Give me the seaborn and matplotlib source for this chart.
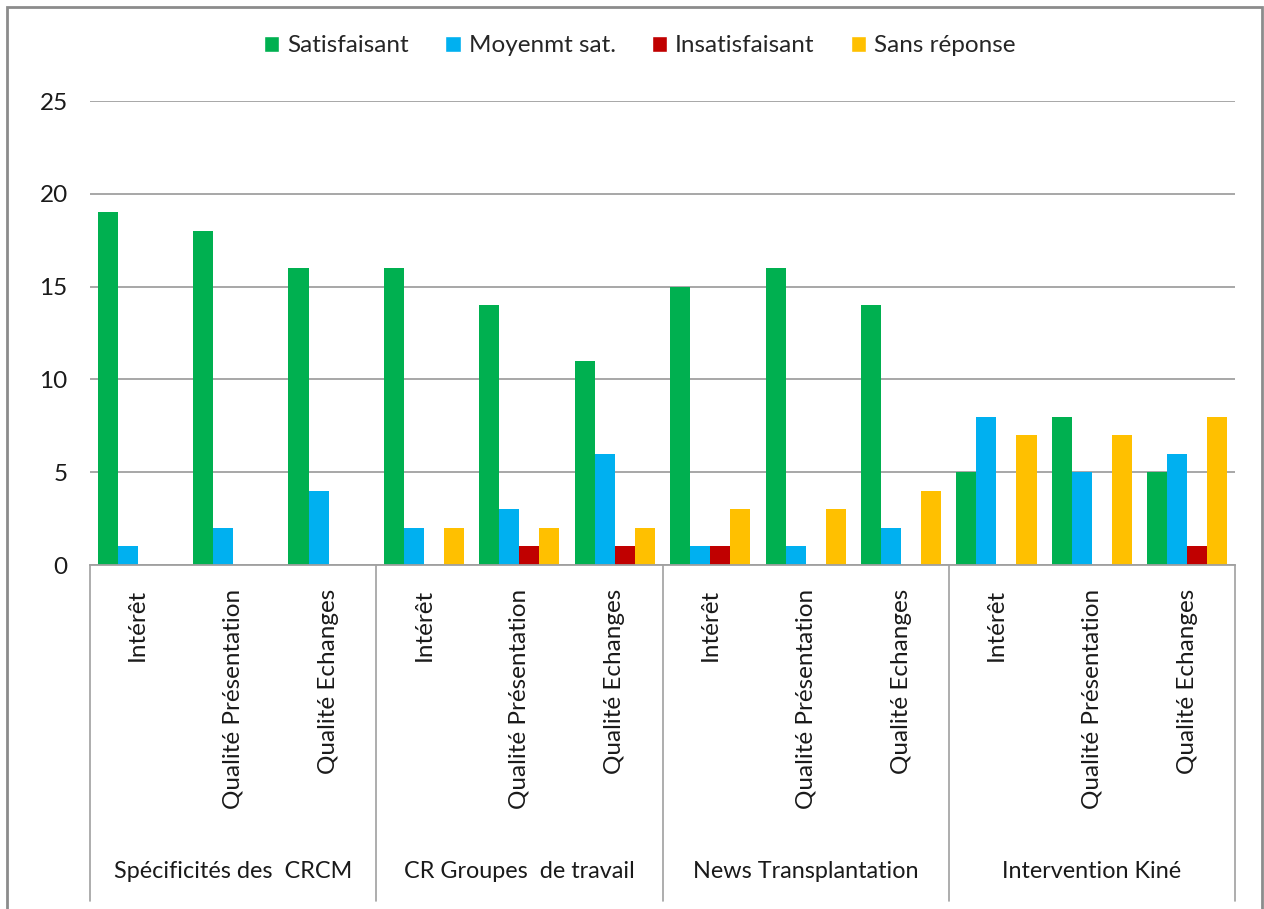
import matplotlib
matplotlib.use("Agg")
import matplotlib.pyplot as plt
import seaborn as sns
import pandas as pd
from matplotlib.patches import Rectangle

groups = ["Spécificités des  CRCM", "CR Groupes  de travail", "News Transplantation", "Intervention Kiné"]
items = ["Intérêt", "Qualité Présentation", "Qualité Echanges"]
series = ["Satisfaisant", "Moyenmt sat.", "Insatisfaisant", "Sans réponse"]
colors = ["#00B050", "#00B0F0", "#C00000", "#FFC000"]

satisfaisant = [19, 18, 16, 16, 14, 11, 15, 16, 14, 5, 8, 5]
moyen = [1, 2, 4, 2, 3, 6, 1, 1, 2, 8, 5, 6]
insatisfaisant = [0, 0, 0, 0, 1, 1, 1, 0, 0, 0, 0, 1]
sans_reponse = [0, 0, 0, 2, 2, 2, 3, 3, 4, 7, 7, 8]

cats = [g + "|" + it for g in groups for it in items]
values = [satisfaisant, moyen, insatisfaisant, sans_reponse]

rows = []
for s, vals in zip(series, values):
    for c, v in zip(cats, vals):
        rows.append({"cat": c, "serie": s, "val": v})
df = pd.DataFrame(rows)

sns.set_style("white")
plt.rcParams["font.family"] = ["Lato", "DejaVu Sans"]

fig = plt.figure(figsize=(12.64, 9.09), dpi=100)
ax = fig.add_axes([90 / 1264, 1 - 565 / 909, (1235 - 90) / 1264, (565 - 101) / 909])

sns.barplot(data=df, x="cat", y="val", hue="serie", order=cats, hue_order=series,
            palette=colors, width=0.84, saturation=1, linewidth=0, edgecolor="none",
            ax=ax, legend=False)

ax.set_ylim(0, 25)
ax.set_xlim(-0.5, len(cats) - 0.5)
ax.set_yticks([0, 5, 10, 15, 20, 25])
ax.yaxis.grid(True, color="#A0A0A0", linewidth=1.3)
ax.set_axisbelow(True)
for sp in ["top", "right", "left"]:
    ax.spines[sp].set_visible(False)
ax.spines["bottom"].set_color("#A0A0A0")
ax.spines["bottom"].set_linewidth(1.3)
ax.tick_params(axis="y", labelsize=17.5, length=0, pad=16, labelcolor="#1a1a1a")
ax.set_xticks([])
ax.set_xlabel("")
ax.set_ylabel("")

# category and group labels
trans = ax.get_xaxis_transform()
for i, c in enumerate(cats):
    ax.text(i, -0.052, c.split("|")[1], transform=trans, rotation=90,
            ha="center", va="top", fontsize=17.5, color="#1a1a1a")
for g_i, g in enumerate(groups):
    ax.text(g_i * 3 + 1, -0.66, g, transform=trans, ha="center", va="center",
            fontsize=16.8, color="#1a1a1a")
for k in range(len(groups) + 1):
    ax.plot([k * 3 - 0.5, k * 3 - 0.5], [0, -0.725], transform=trans,
            color="#A0A0A0", linewidth=1.2, clip_on=False)

# legend
handles = [Rectangle((0, 0), 1, 1, facecolor=c) for c in colors]
fig.legend(handles, series, loc="center", bbox_to_anchor=(640 / 1264, 1 - 46 / 909),
           ncol=4, frameon=False, fontsize=17.5, handlelength=0.62, handleheight=0.62,
           handletextpad=0.33, columnspacing=1.5)

# outer frame
fig.patches.append(Rectangle((7 / 1264, -0.01), (1262 - 7) / 1264, 1 - 7 / 909 + 0.01,
                             transform=fig.transFigure, fill=False,
                             edgecolor="#8C8C8C", linewidth=2))

fig.savefig("out.png", dpi=100)
